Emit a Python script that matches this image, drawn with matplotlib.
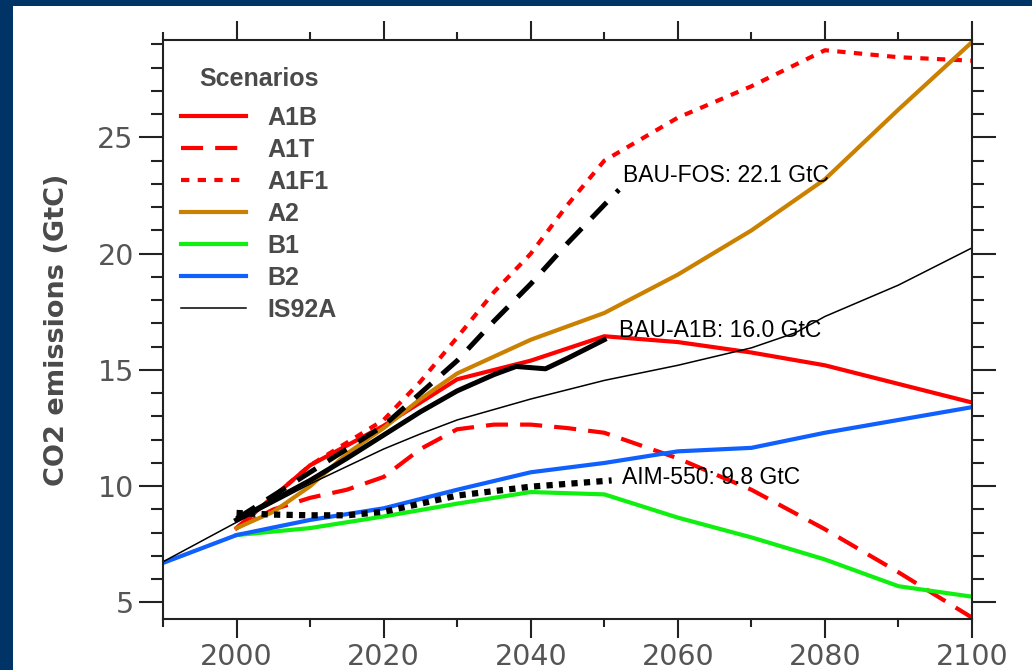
import matplotlib
matplotlib.use('Agg')
import matplotlib.pyplot as plt
from matplotlib.patches import Rectangle
from matplotlib.ticker import MultipleLocator

# SRES scenarios (GtC)
is92a_yr = [1990, 2000, 2010, 2020, 2025, 2030, 2040, 2050, 2060, 2070, 2076, 2080, 2090, 2100]
is92a = [6.75, 8.45, 10.1, 11.6, 12.25, 12.85, 13.75, 14.55, 15.2, 15.95, 16.6, 17.3, 18.65, 20.25]

b2_yr = [1990, 2000, 2010, 2020, 2030, 2040, 2050, 2060, 2070, 2080, 2090, 2100]
b2 = [6.7, 7.9, 8.55, 9.05, 9.85, 10.6, 11.0, 11.5, 11.65, 12.3, 12.85, 13.4]

b1_yr = [2000, 2010, 2020, 2030, 2040, 2050, 2060, 2070, 2080, 2090, 2100]
b1 = [7.9, 8.2, 8.7, 9.25, 9.75, 9.65, 8.65, 7.8, 6.85, 5.7, 5.25]

a1b_yr = [2000, 2010, 2020, 2030, 2040, 2050, 2060, 2070, 2080, 2090, 2100]
a1b = [8.2, 10.9, 12.6, 14.6, 15.4, 16.45, 16.2, 15.75, 15.2, 14.4, 13.6]

a1t_yr = [2000, 2005, 2010, 2015, 2020, 2025, 2030, 2035, 2040, 2045, 2050, 2060, 2070, 2080, 2090, 2100]
a1t = [8.2, 9.0, 9.5, 9.85, 10.4, 11.6, 12.45, 12.65, 12.65, 12.5, 12.3, 11.2, 9.85, 8.15, 6.3, 4.35]

a1f1_yr = [2000, 2010, 2020, 2025, 2030, 2035, 2040, 2045, 2050, 2060, 2070, 2080, 2090, 2100]
a1f1 = [8.2, 10.9, 12.85, 14.5, 16.4, 18.35, 20.0, 22.1, 24.0, 25.85, 27.2, 28.75, 28.45, 28.3]

a2_yr = [2000, 2005, 2010, 2015, 2020, 2025, 2030, 2040, 2050, 2060, 2070, 2080, 2090, 2100]
a2 = [8.2, 8.9, 10.0, 11.4, 12.5, 13.75, 14.85, 16.3, 17.45, 19.1, 21.0, 23.2, 26.2, 29.1]

# business-as-usual / stabilisation paths
bau_a1b_yr = [2000, 2005, 2010, 2015, 2020, 2025, 2030, 2035, 2038, 2040, 2042, 2045, 2050]
bau_a1b = [8.55, 9.4, 10.25, 11.2, 12.2, 13.2, 14.1, 14.8, 15.15, 15.1, 15.05, 15.5, 16.3]

bau_fos_yr = [2000, 2010, 2020, 2025, 2030, 2035, 2040, 2045, 2050, 2052]
bau_fos = [8.6, 10.6, 12.6, 14.0, 15.4, 17.1, 18.7, 20.45, 22.1, 22.75]

aim_yr = [2000, 2005, 2010, 2015, 2020, 2025, 2030, 2040, 2051]
aim550 = [8.85, 8.78, 8.75, 8.75, 8.9, 9.25, 9.6, 9.98, 10.25]

notes = ['BAU-FOS: 22.1 GtC', 'BAU-A1B: 16.0 GtC', 'AIM-550: 9.8 GtC']
notes_x = [2052.6, 2052.0, 2052.4]
notes_y = [23.35, 16.7, 10.37]

navy = '#003466'
grey = '#4a4a4a'

fig = plt.figure(figsize=(10.32, 6.70), dpi=100, facecolor=navy)
bg = Rectangle((13 / 1032, 0), 1, 1 - 6 / 670, transform=fig.transFigure,
               facecolor='white', edgecolor='none', zorder=-10)
fig.add_artist(bg)
ax = fig.add_axes([163 / 1032, 1 - 619 / 670, (972 - 163) / 1032, (619 - 40) / 670])

ax.plot(a1b_yr, a1b, color='#ff0000', lw=3, label='A1B')
ax.plot(a1t_yr, a1t, color='#ff0000', lw=3, ls=(0, (5.3, 2.9)), label='A1T')
ax.plot(a1f1_yr, a1f1, color='#ff0000', lw=3, ls=(0, (2, 2)), label='A1F1')
ax.plot(a2_yr, a2, color='#cc8000', lw=3, label='A2')
ax.plot(b1_yr, b1, color='#10f010', lw=3, label='B1')
ax.plot(b2_yr, b2, color='#1060ff', lw=3, label='B2')
ax.plot(is92a_yr, is92a, color='black', lw=1.1, label='IS92A')

ax.plot(bau_fos_yr, bau_fos, color='black', lw=3.6, ls=(0, (4.4, 2.8)))
ax.plot(bau_a1b_yr, bau_a1b, color='black', lw=3.6)
ax.plot(aim_yr, aim550, color='black', lw=4.5, ls=(0, (1, 1)))

for t, x, y in zip(notes, notes_x, notes_y):
    ax.text(x, y, t, fontsize=16.5, family='Liberation Sans', ha='left', va='center')

ax.set_xlim(1990, 2100)
ax.set_ylim(4.29, 29.19)
ax.xaxis.set_major_locator(MultipleLocator(20))
ax.xaxis.set_minor_locator(MultipleLocator(10))
ax.yaxis.set_major_locator(MultipleLocator(5))
ax.yaxis.set_minor_locator(MultipleLocator(1))
ax.tick_params(axis='both', which='both', direction='out', top=True, right=True,
               width=1.5, colors='#222222', labelcolor='#555555', labelsize=20.5)
ax.tick_params(axis='x', which='major', length=14, pad=3)
ax.tick_params(axis='x', which='minor', length=6)
ax.tick_params(axis='y', which='major', length=17, pad=4)
ax.tick_params(axis='y', which='minor', length=8.5)
for s in ax.spines.values():
    s.set_linewidth(1.5)
    s.set_color('#222222')

fig.text(57.5 / 1032, 1 - 330 / 670, 'CO2 emissions (GtC)', rotation=90, ha='center', va='center',
         fontsize=19.5, fontweight='bold', color=grey)

leg = ax.legend(title='Scenarios', loc='upper left', bbox_to_anchor=(0.022, 0.953),
                frameon=False, borderpad=0, borderaxespad=0, handlelength=2.6,
                handletextpad=0.88, labelspacing=0.32,
                prop={'family': 'Liberation Sans', 'weight': 'bold', 'size': 18},
                title_fontproperties={'family': 'Liberation Sans', 'weight': 'bold', 'size': 18})
for t in leg.get_texts():
    t.set_color(grey)
leg.get_title().set_color(grey)
# extra gap between the title and the first entry
leg._legend_box.sep = 10.8

fig.savefig('out.png', dpi=100, facecolor=navy)
